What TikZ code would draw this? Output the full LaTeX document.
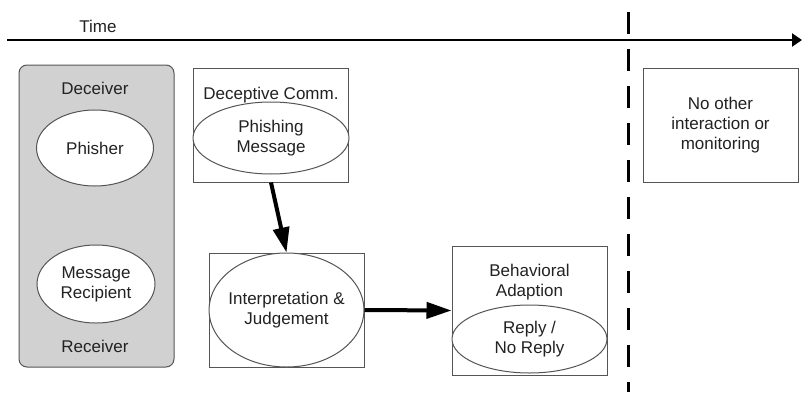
\documentclass[tikz,border=0pt]{standalone}
\usepackage{fontspec}
\setmainfont{Liberation Sans}
\usetikzlibrary{arrows.meta, positioning, shapes.geometric}
\definecolor{boxgray}{HTML}{D1D1D1}
\definecolor{linegray}{HTML}{555555}
\definecolor{textgray}{HTML}{222222}

\begin{document}
\begin{tikzpicture}[
  x=0.5pt, y=0.5pt,
  font=\fontsize{8.5}{10}\selectfont, text=textgray,
  frame/.style={rectangle, draw=linegray, line width=0.5pt, fill=white,
                minimum width=77.5pt, minimum height=#1, inner sep=0pt},
  frame/.default=57pt,
  oval/.style={ellipse, draw=linegray, line width=0.5pt, fill=white,
               inner sep=0pt, align=center},
  lbl/.style={inner sep=0pt, align=center},
  arr/.style={-{Triangle[length=12.5pt, width=8pt]}, line width=2pt, color=black},
  timearr/.style={-{Triangle[length=5pt, width=6.5pt]}, line width=1.2pt, color=black}
]
\useasboundingbox (0,0) rectangle (802,392);

% Time axis
\coordinate (t0) at (7,352);
\coordinate (t1) at (802,352);
\draw[timearr] (t0) -- (t1);
\node[lbl, anchor=base] (timelbl) at (98,359) {Time};

% Deceiver / receiver
\node[frame=151pt, fill=boxgray, rounded corners=4pt] (deceiver) at (96.5,176) {};
\node[lbl, anchor=base] (declbl) at (95,298) {Deceiver};
\node[lbl, anchor=base] (reclbl) at (95,40) {Receiver};
\node[oval, minimum width=58.5pt, minimum height=38pt] (phisher) at (95,244) {Phisher};
\node[oval, minimum width=59pt, minimum height=39pt] (recipient) at (96,108) {Message\\Recipient};

% Deceptive communication
\node[frame] (comm) at (271,267) {};
\node[lbl, anchor=base] (commlbl) at (271,293) {Deceptive Comm.};
\node[oval, minimum width=78pt, minimum height=36pt] (phishmsg) at (271,254) {Phishing\\Message};

% Interpretation
\node[frame] (interp) at (286.5,82) {};
\node[oval, minimum width=77.5pt, minimum height=57pt] (judge) at (286.5,82) {};
\node[lbl] (judgelbl) at (judge) {Interpretation \&\\Judgement};

% Behavioral adaption
\node[frame=64.5pt] (behav) at (529.5,81.5) {};
\node[lbl] (behavlbl) at (529.5,110) {Behavioral\\Adaption};
\node[oval, minimum width=77.5pt, minimum height=34pt] (reply) at (529.5,53) {Reply /\\No Reply};

% Afterwards
\node[frame, align=center] (other) at (720.5,267) {No other\\interaction or\\monitoring};

% Border
\coordinate (cuttop) at (628,380);
\coordinate (cutbot) at (628,0);
\draw[line width=1.5pt, dash pattern=on 11pt off 7.5pt] (cuttop) -- (cutbot);

% Arrows
\draw[arr] (comm.south) -- (interp.north);
\draw[arr] (interp.east) -- (behav.west);

\end{tikzpicture}
\end{document}
